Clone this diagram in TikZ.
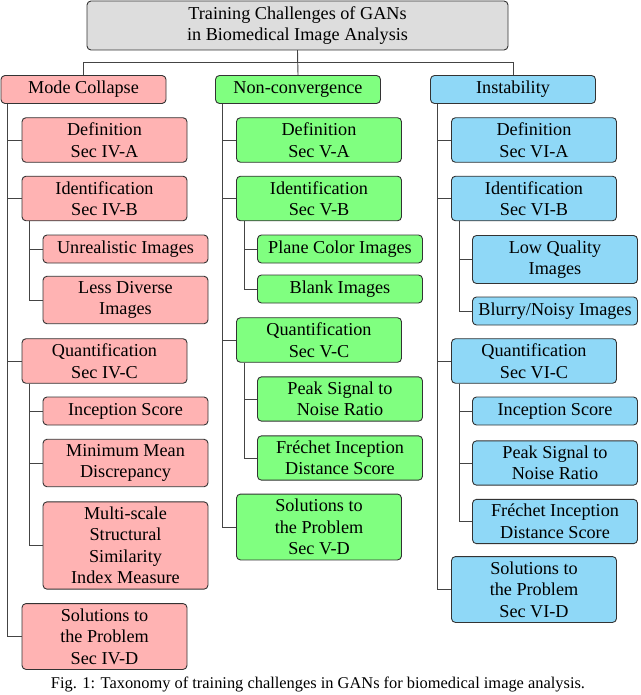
\documentclass[tikz,border=0pt]{standalone}
\usepackage{fontspec}
\setmainfont{Liberation Serif}
\usepackage{tikz}
\usetikzlibrary{positioning}
\definecolor{rootgray}{HTML}{DDDDDD}
\definecolor{pinkbox}{HTML}{FFB3B3}
\definecolor{greenbox}{HTML}{80FF80}
\definecolor{bluebox}{HTML}{8FD8F7}
\definecolor{edgegray}{HTML}{333333}
\definecolor{linegray}{HTML}{444444}

\begin{document}
\begin{tikzpicture}[
  x=1pt, y=-1pt,
  font=\fontsize{18.2}{21.5}\selectfont,
  box/.style={draw=edgegray, line width=0.9pt, rounded corners=4pt, align=center,
              minimum width=165pt, minimum height=28pt, inner xsep=2pt, inner ysep=5pt},
  rootbox/.style={box, fill=rootgray, minimum width=421pt, minimum height=49pt},
  mode/.style={box, fill=pinkbox},
  nonconv/.style={box, fill=greenbox},
  instab/.style={box, fill=bluebox},
  link/.style={draw=linegray, line width=0.9pt}
]
  \useasboundingbox (0,0) rectangle (640,695);

  \node[rootbox] (root) at (297.5,25.5) {Training Challenges of GANs\\in Biomedical Image Analysis};

  \node[mode] (mc) at (83.5,89.5) {Mode Collapse};
  \node[nonconv] (nc) at (298,89.5) {Non-convergence};
  \node[instab] (ins) at (513,89.5) {Instability};

  \node[mode] (mcdef) at (104.5,140) {Definition\\Sec IV-A};
  \node[mode] (mcid) at (104.5,198.5) {Identification\\Sec IV-B};
  \node[mode] (mcunreal) at (125.5,249) {Unrealistic Images};
  \node[mode] (mcdiverse) at (125.5,300) {Less Diverse\\Images};
  \node[mode] (mcquant) at (104.5,361) {Quantification\\Sec IV-C};
  \node[mode] (mcis) at (125.5,411) {Inception Score};
  \node[mode] (mcmmd) at (125.5,463) {Minimum Mean\\Discrepancy};
  \node[mode] (mcssim) at (125.5,545.5) {Multi-scale\\Structural\\Similarity\\Index Measure};
  \node[mode] (mcsol) at (104.5,636.5) {Solutions to\\the Problem\\Sec IV-D};

  \node[nonconv] (ncdef) at (319,140) {Definition\\Sec V-A};
  \node[nonconv] (ncid) at (319,198.5) {Identification\\Sec V-B};
  \node[nonconv] (ncplane) at (340,249) {Plane Color Images};
  \node[nonconv] (ncblank) at (340,289) {Blank Images};
  \node[nonconv] (ncquant) at (319,340) {Quantification\\Sec V-C};
  \node[nonconv] (ncpsnr) at (340,399) {Peak Signal to\\Noise Ratio};
  \node[nonconv] (ncfid) at (340,458) {Fréchet Inception\\Distance Score};
  \node[nonconv] (ncsol) at (319,527) {Solutions to\\the Problem\\Sec V-D};

  \node[instab] (insdef) at (534,140) {Definition\\Sec VI-A};
  \node[instab] (insid) at (534,198.5) {Identification\\Sec VI-B};
  \node[instab] (inslow) at (555,259.5) {Low Quality\\Images};
  \node[instab] (insblur) at (555,311) {Blurry/Noisy Images};
  \node[instab] (insquant) at (534,361) {Quantification\\Sec VI-C};
  \node[instab] (insis) at (555,411) {Inception Score};
  \node[instab] (inspsnr) at (555,463) {Peak Signal to\\Noise Ratio};
  \node[instab] (insfid) at (555,521.5) {Fréchet Inception\\Distance Score};
  \node[instab] (inssol) at (534,589.5) {Solutions to\\the Problem\\Sec VI-D};

  \node[font=\fontsize{16.4}{19}\selectfont] (caption) at (318,684)
    {Fig. 1: Taxonomy of training challenges in GANs for biomedical image analysis.};

  \draw[link] (root.south) -- ++(0,12) -| (mc.north);
  \draw[link] (root.south) -- (nc.north);
  \draw[link] (root.south) -- ++(0,12) -| (ins.north);

  \draw[link] ([xshift=7pt]mc.south west) |- (mcdef.west);
  \draw[link] ([xshift=7pt]mc.south west) |- (mcid.west);
  \draw[link] ([xshift=8pt]mcid.south west) |- (mcunreal.west);
  \draw[link] ([xshift=8pt]mcid.south west) |- (mcdiverse.west);
  \draw[link] ([xshift=7pt]mc.south west) |- (mcquant.west);
  \draw[link] ([xshift=8pt]mcquant.south west) |- (mcis.west);
  \draw[link] ([xshift=8pt]mcquant.south west) |- (mcmmd.west);
  \draw[link] ([xshift=8pt]mcquant.south west) |- (mcssim.west);
  \draw[link] ([xshift=7pt]mc.south west) |- (mcsol.west);

  \draw[link] ([xshift=7pt]nc.south west) |- (ncdef.west);
  \draw[link] ([xshift=7pt]nc.south west) |- (ncid.west);
  \draw[link] ([xshift=8pt]ncid.south west) |- (ncplane.west);
  \draw[link] ([xshift=8pt]ncid.south west) |- (ncblank.west);
  \draw[link] ([xshift=7pt]nc.south west) |- (ncquant.west);
  \draw[link] ([xshift=8pt]ncquant.south west) |- (ncpsnr.west);
  \draw[link] ([xshift=8pt]ncquant.south west) |- (ncfid.west);
  \draw[link] ([xshift=7pt]nc.south west) |- (ncsol.west);

  \draw[link] ([xshift=7pt]ins.south west) |- (insdef.west);
  \draw[link] ([xshift=7pt]ins.south west) |- (insid.west);
  \draw[link] ([xshift=8pt]insid.south west) |- (inslow.west);
  \draw[link] ([xshift=8pt]insid.south west) |- (insblur.west);
  \draw[link] ([xshift=7pt]ins.south west) |- (insquant.west);
  \draw[link] ([xshift=8pt]insquant.south west) |- (insis.west);
  \draw[link] ([xshift=8pt]insquant.south west) |- (inspsnr.west);
  \draw[link] ([xshift=8pt]insquant.south west) |- (insfid.west);
  \draw[link] ([xshift=7pt]ins.south west) |- (inssol.west);
\end{tikzpicture}
\end{document}
